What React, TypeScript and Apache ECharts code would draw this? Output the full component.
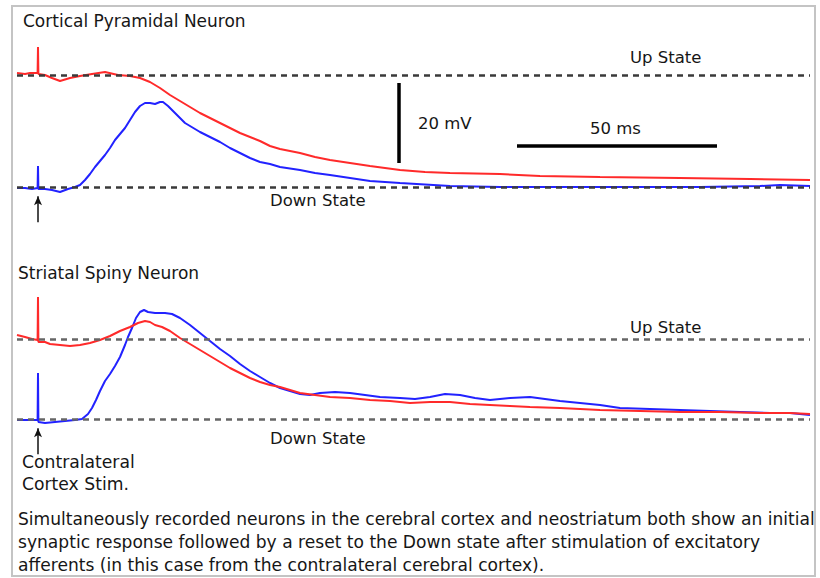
import { useEffect, useRef } from "react";
import * as echarts from "echarts";

// time in ms relative to the contralateral cortex stimulus; voltage in mV above the Down state
const cortexUpTrial: [number, number][] = [
  [-5.25, 28.5], [-3.25, 28.25], [-2, 28.5], [-0.1, 28.5], [0, 35], [0.1, 28.25], [1.75, 28],
  [3.5, 27.25], [5.5, 26.5], [8, 27.25], [10.5, 27.75], [13.5, 28.25], [16.75, 28.75], [20, 28],
  [23, 27.75], [25.5, 27.25], [28, 26.25], [30.5, 24.75], [33, 23], [35.5, 21.5], [38, 20],
  [40.5, 18.5], [43, 17.25], [45.5, 16], [48, 14.75], [50.5, 13.5], [53, 12.5], [55.5, 11.5],
  [58, 10.25], [60.5, 9.5], [65.5, 8.5], [69.25, 7.5], [73, 6.75], [78, 6], [83, 5.25],
  [90.5, 4.25], [96.75, 3.75], [103, 3.5], [115.5, 3.25], [125.5, 2.75], [140.5, 2.5],
  [160.5, 2.25], [178, 2], [193, 1.75],
];
const cortexDownTrial: [number, number][] = [
  [-5.25, -0.25], [-3.25, -0.25], [-1.5, -0.5], [-0.1, -0.25], [0, 5.25], [0.1, -0.5], [1.75, -0.5],
  [3.5, -0.75], [5.5, -1.25], [7.5, -0.5], [9.25, 0], [10.5, 0.5], [11.75, 1.75], [13, 3.25],
  [14.25, 5], [15.5, 6.5], [16.75, 8], [18, 9.75], [19.25, 11.75], [20.5, 13.25], [21.75, 14.75],
  [23, 16.75], [24.25, 18.75], [25.5, 20.25], [26.75, 21], [28, 21], [29.25, 20.75], [30.5, 21.25],
  [31.25, 21.25], [32.5, 20.25], [34.25, 18.5], [36.75, 16], [40.5, 13.75], [43, 12.5], [45.5, 11.25],
  [48, 9.75], [50.5, 8.5], [53, 7.25], [55.5, 6.25], [58, 5.75], [60.5, 5], [65.5, 4.25],
  [69.25, 3.5], [73, 3], [78, 2.25], [83, 1.5], [90.5, 1], [103, 0.25], [115.5, 0], [130.5, 0],
  [145.5, 0], [165.5, 0], [180.5, 0.25], [185.5, 0.5], [193, 0.25],
];
const striatumUpTrial: [number, number][] = [
  [-5.25, 21], [-3.25, 20.5], [-1.5, 20], [-0.1, 19.75], [0, 30.5], [0.1, 19.25], [1.75, 19.25],
  [3, 18.75], [5.5, 18.5], [8, 18.25], [10.5, 18.5], [13, 19], [15.5, 19.75], [18, 20.75],
  [20.5, 22], [23, 23], [25, 24], [26.75, 24.5], [28, 24.25], [29.25, 23.5], [31, 23], [33, 22],
  [35.5, 20.25], [38, 18.75], [40.5, 17.25], [43, 15.75], [45.5, 14.25], [48, 12.75], [50.5, 11.5],
  [53, 10.25], [55.5, 9.25], [58, 8.5], [60.5, 8], [63, 7.25], [65.5, 6.5], [69.25, 6], [73, 5.5],
  [78, 5.25], [83, 4.75], [88, 4.5], [93, 4], [98, 4.25], [103, 4.25], [108, 3.75], [113, 3.5],
  [118, 3.25], [123, 3], [130.5, 2.75], [140.5, 2.25], [150.5, 2], [160.5, 1.75], [170.5, 1.75],
  [180.5, 1.5], [188, 1.5], [193, 1.25],
];
const striatumDownTrial: [number, number][] = [
  [-5.25, -0.25], [-3.25, -0.25], [-1.5, -0.25], [-0.1, -0.25], [0, 11.5], [0.1, -0.75], [1.75, -1],
  [4.25, -0.75], [6.75, -0.5], [9.25, -0.25], [11, 0], [12.5, 1.25], [13.5, 2.75], [14.5, 4.75],
  [15.5, 7], [16.75, 9.5], [18, 11.25], [19.25, 13.25], [20.5, 15.5], [21.75, 18.5], [22.5, 20.5],
  [23.5, 22.75], [24.5, 25.25], [25.5, 26.75], [26.5, 27.25], [27.5, 26.75], [29.25, 26.5],
  [31.75, 26.5], [33.5, 26.25], [35.5, 25.25], [38, 23.5], [40.5, 21.5], [43, 19.5], [45.5, 17.5],
  [48, 15.75], [50.5, 13.75], [53, 12], [55.5, 10.5], [58, 9], [60.5, 7.75], [63, 7], [65.5, 6.25],
  [68, 6], [70.5, 6.5], [74.25, 6.75], [78, 6.5], [81.75, 6], [85.5, 5.5], [90.5, 5.25], [94.25, 5],
  [98, 5.5], [101.75, 6.25], [105.5, 6], [109.25, 5.25], [113, 4.75], [118, 5.25], [123, 5.5],
  [126.75, 5], [130.5, 4.5], [135.5, 4], [140.5, 3.5], [145.5, 2.75], [153, 2.5], [160.5, 2.25],
  [168, 2], [175.5, 1.75], [183, 1.5], [188, 1.5], [193, 1],
];

const cortexLevels = { up: 28, down: 0 };
const striatumLevels = { up: 20, down: 0 };
const scaleBarMv = 20;
const scaleBarMs = 50;

const panelTitles = ["Cortical Pyramidal Neuron", "Striatal Spiny Neuron"];
const stateLabels = ["Up State", "Down State"];
const stimLabel = ["Contralateral", "Cortex Stim."];
const captionLines = [
  "Simultaneously recorded neurons in the cerebral cortex and neostriatum both show an initial",
  "synaptic response followed by a reset to the Down state after stimulation of excitatory",
  "afferents (in this case from the contralateral cerebral cortex).",
];

const RED = "#ff2a2a";
const BLUE = "#2222ff";
const FONT = "DejaVu Sans, Verdana, sans-serif";

export default function App() {
  const ref = useRef<HTMLDivElement>(null);
  useEffect(() => {
    if (!ref.current) return;
    const chart = echarts.init(ref.current, undefined, { renderer: "svg" });

    const dashed = (levels: { up: number; down: number }, color: string) => ({
      silent: true,
      symbol: "none",
      label: { show: false },
      lineStyle: { type: [6, 5], color, width: 2.5, opacity: 1 },
      emphasis: { disabled: true },
      data: [{ yAxis: levels.up }, { yAxis: levels.down }],
    });
    const stimArrow = {
      silent: true,
      symbol: ["arrow", "none"],
      symbolSize: [6, 9],
      label: { show: false },
      lineStyle: { type: "solid", color: "#111", width: 1.5 },
      emphasis: { disabled: true },
      data: [[{ coord: [0, -2.3] }, { coord: [0, -8.8] }]],
    };
    const trace = (data: [number, number][], color: string, idx: number, extra: any = {}) => ({
      type: "line",
      xAxisIndex: idx,
      yAxisIndex: idx,
      data,
      showSymbol: false,
      symbol: "none",
      lineStyle: { color, width: 2 },
      z: 3,
      ...extra,
    });

    const tx = (text: string, x: number, y: number, size: number, extra: any = {}) => ({
      type: "text",
      x,
      y,
      style: {
        text,
        fill: "#161616",
        font: `${size}px ${FONT}`,
        textVerticalAlign: "middle",
        ...extra,
      },
    });

    const barX = 90.25;
    const barY = 6;
    const msStart = 119.75;
    const msY = 10.25;

    chart.setOption({
      animation: false,
      backgroundColor: "#fff",
      grid: [
        { left: 17, width: 793, top: 27, height: 200 },
        { left: 17, width: 793, top: 259, height: 200 },
      ],
      xAxis: [0, 1].map((i) => ({ type: "value", gridIndex: i, min: -5.25, max: 193, show: false })),
      yAxis: [0, 1].map((i) => ({ type: "value", gridIndex: i, min: -10, max: 40, show: false })),
      series: [
        trace(cortexUpTrial, RED, 0, { markLine: dashed(cortexLevels, "#3a3a3a"), z: 3 }),
        trace(cortexDownTrial, BLUE, 0, { markLine: stimArrow, z: 4 }),
        trace(striatumDownTrial, BLUE, 1, { markLine: dashed(striatumLevels, "#666"), z: 3 }),
        trace(striatumUpTrial, RED, 1, { markLine: stimArrow, z: 4 }),
        {
          type: "line",
          xAxisIndex: 0,
          yAxisIndex: 0,
          data: [[barX, barY], [barX, barY + scaleBarMv]],
          symbol: "none",
          lineStyle: { color: "#000", width: 3.5, cap: "butt" },
        },
        {
          type: "line",
          xAxisIndex: 0,
          yAxisIndex: 0,
          data: [[msStart, msY], [msStart + scaleBarMs, msY]],
          symbol: "none",
          lineStyle: { color: "#000", width: 3.5, cap: "butt" },
        },
      ],
      graphic: [
        {
          type: "rect",
          shape: { x: 12, y: 6, width: 803, height: 570 },
          style: { fill: "none", stroke: "#c4c4c4", lineWidth: 2 },
          silent: true,
        },
        tx(panelTitles[0], 23, 21, 17),
        tx(stateLabels[0], 630, 57, 16.5),
        tx(`${scaleBarMv} mV`, 418, 123, 16.5),
        tx(`${scaleBarMs} ms`, 590, 128, 16.5),
        tx(stateLabels[1], 270, 200, 16.5),
        tx(panelTitles[1], 18, 273, 17),
        tx(stateLabels[0], 630, 327, 16.5),
        tx(stateLabels[1], 270, 438, 16.5),
        tx(stimLabel[0], 22, 462, 17.2),
        tx(stimLabel[1], 22, 484, 17.2),
        tx(captionLines[0], 18, 519, 17.1),
        tx(captionLines[1], 18, 542, 17.1),
        tx(captionLines[2], 18, 565, 17.1),
      ],
    });
    return () => chart.dispose();
  }, []);
  return (
    <div
      ref={ref}
      style={{ position: "fixed", left: 0, top: 0, width: 820, height: 578 }}
    />
  );
}
